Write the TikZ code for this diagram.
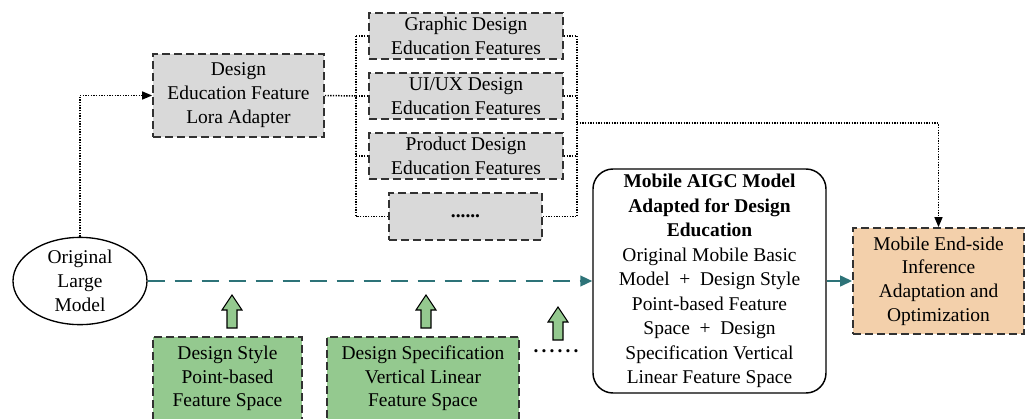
\documentclass[tikz,border=0pt]{standalone}
\usepackage{fontspec}
\setmainfont{Liberation Serif}
\usetikzlibrary{arrows.meta,shapes.geometric}

\definecolor{greyfill}{RGB}{217,217,217}
\definecolor{greenfill}{RGB}{148,201,143}
\definecolor{orangefill}{RGB}{243,208,171}
\definecolor{tealline}{RGB}{45,115,120}
\definecolor{edgegrey}{RGB}{50,50,50}

\tikzset{
    dashbox/.style={draw=edgegrey, line width=1.3pt, dash pattern=on 6pt off 3pt,
        align=center, inner sep=0pt},
    greybox/.style={dashbox, fill=greyfill},
    kindbox/.style={greybox, minimum width=145.5pt, minimum height=34.5pt},
    spacebox/.style={dashbox, fill=greenfill, minimum width=#1, minimum height=62.25pt},
    dotline/.style={line width=1.1pt, dash pattern=on 1pt off 1pt},
    flowline/.style={tealline, line width=1.6pt},
}

\begin{document}
\begin{tikzpicture}[x=0.75pt, y=-0.75pt,
        font=\fontsize{14.6pt}{18pt}\selectfont,
        >={Triangle[length=7.5pt,width=6pt]}]
    \useasboundingbox (0,0) rectangle (1032,418);
    % Modelo de partida y adaptador
    \node[ellipse, draw, line width=1pt, minimum width=100.5pt, minimum height=64.5pt,
        inner sep=0pt, align=center] (orig) at (80,281) {Original\\Large\\Model};
    \node[greybox, minimum width=128.25pt, minimum height=62.25pt]
        (lora) at (238.5,95.5) {Design\\Education Feature\\Lora Adapter};
    % Rasgos por especialidad
    \node[kindbox] (graphic) at (466,36) {Graphic Design\\Education Features};
    \node[kindbox] (uiux) at (466,96) {UI/UX Design\\Education Features};
    \node[kindbox] (product) at (466,156) {Product Design\\Education Features};
    \node[greybox, minimum width=114.75pt, minimum height=35.25pt]
        (more) at (465.5,216.5) {\textbf{......}};
    \coordinate (lbus) at (356,96);
    \coordinate (rbus) at (577,123);
    % Modelo adaptado y salida
    \node[draw, line width=1.1pt, rounded corners=15pt, minimum width=174.75pt,
        minimum height=168pt, inner sep=0pt, align=center,
        font=\fontsize{14.6pt}{18.4pt}\selectfont] (aigc) at (709.5,281)
        {\textbf{Mobile AIGC Model}\\\textbf{Adapted for Design}\\\textbf{Education}\\
        Original Mobile Basic\\Model\ \ +\ \ Design Style\\Point-based Feature\\
        Space\ \ +\ \ Design\\Specification Vertical\\Linear Feature Space};
    \node[dashbox, fill=orangefill, minimum width=128.25pt, minimum height=79.5pt,
        font=\fontsize{14.6pt}{17.8pt}\selectfont] (endside) at (938.5,281)
        {Mobile End-side\\Inference\\Adaptation and\\Optimization};
    % Espacios de rasgos
    \node[spacebox=111.75pt, font=\fontsize{14.6pt}{17.6pt}\selectfont]
        (stylespace) at (227.5,378.5) {Design Style\\Point-based\\Feature Space};
    \node[spacebox=144pt, font=\fontsize{14.6pt}{17.6pt}\selectfont]
        (specspace) at (423,378.5) {Design Specification\\Vertical Linear\\Feature Space};
    \node[anchor=base, font=\fontsize{14.6pt}{18pt}\selectfont\bfseries\addfontfeature{LetterSpace=16}]
        (etc) at (556,352) {......};

    % Conexiones punteadas
    \draw[dotline, ->] (orig.north) |- (lora.west);
    \draw[dotline] (lora.east) -- (lbus);
    \draw[dotline] (graphic.west -| lbus) -- (more.west -| lbus);
    \draw[dotline] (graphic.east -| rbus) -- (more.east -| rbus);
    \foreach \n in {graphic,uiux,product,more} {
        \draw[dotline] (\n.west) -- (\n.west -| lbus);
        \draw[dotline] (\n.east) -- (\n.east -| rbus);
    }
    \draw[dotline, ->] (rbus) -| (endside.north);
    % Flujo principal
    \draw[flowline, dash pattern=on 12.75pt off 7.5pt,
        -{Triangle[length=9pt,width=8pt]}] (orig.east) -- (aigc.west);
    \draw[flowline, -{Triangle[length=9pt,width=8pt]}] (aigc.east) -- (endside.west);
    % Flechas verdes
    \foreach \ax/\ay in {232/295,426/295,558/307}
        \draw[fill=greenfill, line width=0.8pt]
            (\ax-5,\ay+33) -- (\ax-5,\ay+15) -- (\ax-10,\ay+15) -- (\ax,\ay)
            -- (\ax+10,\ay+15) -- (\ax+5,\ay+15) -- (\ax+5,\ay+33) -- cycle;
\end{tikzpicture}
\end{document}
